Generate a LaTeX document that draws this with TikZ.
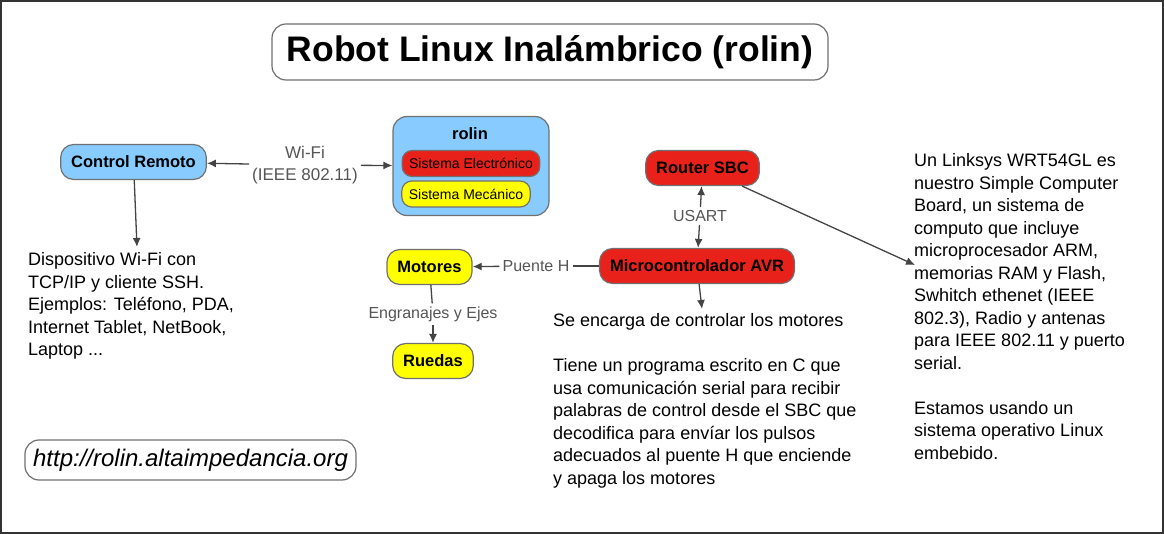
\documentclass[tikz,border=0pt]{standalone}
\usepackage{fontspec}
\setmainfont{Liberation Sans}
\usetikzlibrary{arrows.meta}
\definecolor{cmapblue}{RGB}{136,204,255}
\definecolor{cmapred}{RGB}{232,34,26}
\definecolor{cmapyellow}{RGB}{255,255,0}
\definecolor{cmapedge}{RGB}{112,112,112}
\definecolor{cmapline}{RGB}{68,68,68}
\definecolor{cmaplabel}{RGB}{85,85,85}
\tikzset{
  frame/.style={draw=black!80, line width=2pt},
  concept/.style={draw=cmapedge, line width=1.2pt, rounded corners=13pt,
    minimum height=35pt, inner xsep=10.5pt, font=\fontsize{16.5}{19}\selectfont\bfseries},
  subconcept/.style={draw=cmapedge, line width=1.2pt, rounded corners=10pt,
    minimum height=26pt, inner xsep=7pt, font=\fontsize{14}{17}\selectfont},
  titlebox/.style={draw=cmapedge, line width=1.2pt, rounded corners=14pt, fill=white,
    minimum width=556pt, minimum height=56pt, font=\fontsize{35.5}{40}\selectfont\bfseries},
  linkbox/.style={draw=cmapedge, line width=1.2pt, rounded corners=14pt,
    minimum width=331pt, minimum height=40pt, font=\fontsize{24}{28}\selectfont\itshape},
  linklabel/.style={text=cmaplabel, inner sep=3pt, align=center,
    font=\fontsize{16}{21.5}\selectfont},
  infotext/.style={anchor=north west, inner sep=0pt, align=left,
    font=\fontsize{18}{22.5}\selectfont},
  conn/.style={draw=cmapline, line width=1.3pt},
  arr/.style={conn, -{Latex[length=9pt,width=8pt]}}
}
\begin{document}
\begin{tikzpicture}[x=1pt,y=-1pt]
  \useasboundingbox (0,0) rectangle (1164,534);
  \draw[frame] (1,1) rectangle (1163,533);

  \node[titlebox] (title) at (550,52) {Robot Linux Inalámbrico (rolin)};

  % concepts
  \node[concept, fill=cmapblue] (ctrl) at (133.5,162) {Control Remoto};
  \node[draw=cmapedge, line width=1.2pt, rounded corners=14pt, fill=cmapblue,
    minimum width=156pt, minimum height=99pt] (rolin) at (471,166) {};
  \node[font=\fontsize{16.5}{19}\selectfont\bfseries, inner sep=0pt] (rolintitle) at (470,134) {rolin};
  \node[subconcept, fill=cmapred] (elec) at (471,163.5) {Sistema Electrónico};
  \node[subconcept, fill=cmapyellow] (mec) at (466,194) {Sistema Mecánico};
  \node[concept, fill=cmapred] (router) at (702.5,168) {Router SBC};
  \node[concept, fill=cmapred] (micro) at (697,266) {Microcontrolador AVR};
  \node[concept, fill=cmapyellow] (motores) at (429.5,267) {Motores};
  \node[concept, fill=cmapyellow] (ruedas) at (433,361) {Ruedas};

  % linking phrases
  \node[linklabel, font=\fontsize{17}{21.5}\selectfont] (wifi) at (305,165) {Wi-Fi\\(IEEE 802.11)};
  \node[linklabel] (usart) at (700,216) {USART};
  \node[linklabel] (puente) at (536,266) {Puente H};
  \node[linklabel] (engr) at (433,314) {Engranajes y Ejes};

  % descriptions
  \node[infotext] (ctrlinfo) at (28,252.5) {Dispositivo Wi-Fi con\\TCP/IP y cliente SSH.\\Ejemplos: Teléfono, PDA,\\Internet Tablet, NetBook,\\Laptop ...};
  \node[infotext] (microinfo) at (553,313.5) {Se encarga de controlar los motores\\[22.5pt]Tiene un programa escrito en C que\\usa comunicación serial para recibir\\palabras de control desde el SBC que\\decodifica para envíar los pulsos\\adecuados al puente H que enciende\\y apaga los motores};
  \node[infotext] (routerinfo) at (914,153.5) {Un Linksys WRT54GL es\\nuestro Simple Computer\\Board, un sistema de\\computo que incluye\\microprocesador ARM,\\memorias RAM y Flash,\\Swhitch ethenet (IEEE\\802.3), Radio y antenas\\para IEEE 802.11 y puerto\\serial.\\[22.5pt]Estamos usando un\\sistema operativo Linux\\embebido.};

  \node[linkbox] (url) at (190.5,460) {http://rolin.altaimpedancia.org};

  \coordinate (ctrlend) at (137,247);
  \coordinate (microend) at (702,309);
  \coordinate (routerend) at (915,265);

  % connectors
  \draw[arr] (wifi) -- (ctrl);
  \draw[arr] (wifi) -- (rolin);
  \draw[arr] (ctrl) -- (ctrlend);
  \draw[arr] (usart) -- (router);
  \draw[arr] (usart) -- (micro);
  \draw[conn] (micro) -- (puente);
  \draw[arr] (puente) -- (motores);
  \draw[conn] (motores) -- (engr);
  \draw[arr] (engr) -- (ruedas);
  \draw[arr] (micro) -- (microend);
  \draw[arr] (router) -- (routerend);
\end{tikzpicture}
\end{document}
